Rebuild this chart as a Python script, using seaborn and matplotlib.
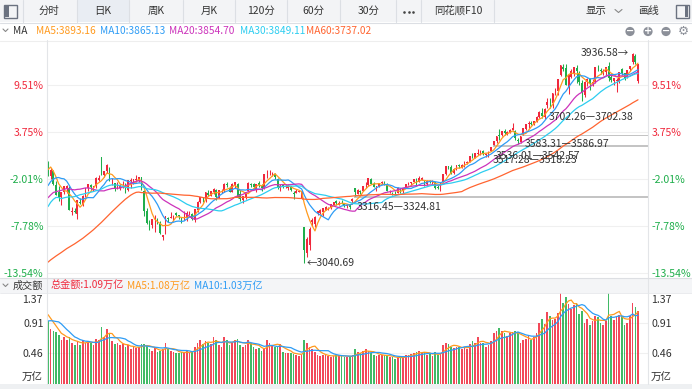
import numpy as np
import pandas as pd
import matplotlib
matplotlib.use("Agg")
import matplotlib.pyplot as plt
import seaborn as sns
from matplotlib.patches import Rectangle, Circle

# closes / amounts before the first visible candle, only used to seed the moving averages
warmup_close = [
    2858, 2868, 2850, 2877, 2879, 2893, 2867, 2856, 2849, 2855, 2855, 2848, 2837, 2824, 2842,
    2811, 2803, 2784, 2788, 2765, 2737, 2744, 2721, 2717, 2704, 2718, 2736, 2736, 2748, 2863,
    2896, 3000, 3088, 3336,
    3489, 3258, 3301, 3217, 3284, 3202, 3202, 3169, 3261, 3268, 3286, 3302, 3280, 3300, 3322,
    3286, 3266, 3280,
    3272, 3311, 3387, 3383, 3470, 3452, 3470,
]
warmup_amount = [0.78, 0.84, 0.86, 0.80, 0.97, 1.10, 1.08, 1.05, 1.02]

# daily candles 2024-11-12 .. 2025-10-13 (one line per month)
open_ = [
    3468, 3412, 3433, 3372, 3344, 3323, 3342, 3361, 3363, 3260, 3265, 3250, 3303, 3290,
    3322, 3360, 3373, 3360, 3370, 3397, 3495, 3416, 3433, 3435, 3385, 3382, 3360, 3360, 3368, 3371, 3352, 3390, 3390, 3396, 3392, 3406,
    3347, 3262, 3207, 3203, 3229, 3223, 3207, 3151, 3167, 3233, 3235, 3226, 3254, 3244, 3237, 3228, 3234, 3248,
    3250, 3225, 3267, 3303, 3320, 3314, 3341, 3328, 3346, 3354, 3320, 3347, 3348, 3380, 3363, 3346, 3375, 3380,
    3334, 3311, 3324, 3347, 3379, 3377, 3353, 3381, 3369, 3361, 3424, 3429, 3423, 3420, 3400, 3360, 3373, 3368, 3363, 3370, 3340,
    3340, 3346, 3315, 3193, 3082, 3120, 3217, 3206, 3254, 3256, 3257, 3268, 3277, 3276, 3290, 3306, 3290, 3296, 3296, 3286, 3287,
    3304, 3362, 3334, 3350, 3349, 3374, 3372, 3401, 3379, 3359, 3369, 3384, 3383, 3379, 3345, 3341, 3341, 3340, 3357,
    3347, 3362, 3375, 3383, 3388, 3400, 3388, 3396, 3385, 3379, 3388, 3387, 3385, 3364, 3356, 3386, 3420, 3453, 3452, 3423,
    3442, 3457, 3451, 3460, 3466, 3473, 3495, 3489, 3507, 3505, 3518, 3503, 3500, 3519, 3545, 3560, 3588, 3587, 3603, 3590, 3597, 3610, 3606,
    3567, 3559, 3588, 3613, 3634, 3637, 3635, 3645, 3664, 3680, 3662, 3715, 3729, 3723, 3770, 3776, 3843, 3877, 3874, 3793, 3836,
    3853, 3874, 3853, 3808, 3758, 3814, 3825, 3808, 3811, 3872, 3865, 3857, 3855, 3883, 3834, 3819, 3819, 3816, 3867, 3851, 3836, 3867,
    3898, 3922, 3818,
]
high = [
    3478, 3446, 3436, 3389, 3370, 3346, 3368, 3372, 3371, 3279, 3276, 3309, 3317, 3330,
    3363, 3379, 3377, 3370, 3410, 3417, 3495, 3433, 3464, 3449, 3403, 3384, 3385, 3378, 3389, 3381, 3393, 3405, 3399, 3416, 3409, 3409,
    3352, 3274, 3226, 3230, 3245, 3233, 3221, 3162, 3242, 3238, 3258, 3245, 3259, 3248, 3238, 3264, 3263, 3265,
    3253, 3270, 3304, 3324, 3323, 3346, 3352, 3347, 3363, 3358, 3353, 3357, 3382, 3386, 3371, 3381, 3388, 3381,
    3352, 3328, 3344, 3385, 3384, 3381, 3379, 3390, 3378, 3420, 3436, 3439, 3430, 3423, 3405, 3376, 3379, 3380, 3377, 3371, 3347,
    3357, 3354, 3351, 3193, 3154, 3194, 3232, 3241, 3263, 3270, 3276, 3285, 3280, 3292, 3302, 3309, 3305, 3308, 3299, 3294, 3290,
    3316.45, 3362, 3357, 3351, 3371, 3386, 3404, 3402, 3385, 3369, 3381, 3392, 3389, 3382, 3352, 3345, 3348, 3365, 3361,
    3362, 3379, 3386, 3386, 3400, 3404, 3412, 3409, 3393, 3394, 3393, 3397, 3387, 3374, 3383, 3420, 3456, 3456, 3460, 3445,
    3459, 3462, 3462, 3474, 3476, 3497, 3510, 3510, 3528, 3521, 3523, 3512, 3517.28, 3536.01, 3561, 3582, 3613, 3605, 3611, 3603, 3611, 3636, 3607,
    3575, 3583.31, 3618, 3634, 3645, 3645, 3648, 3669, 3688, 3704, 3702.26, 3746, 3746, 3767, 3788, 3826, 3884, 3888, 3888, 3845, 3867,
    3876, 3886, 3860, 3820, 3816, 3829, 3830, 3824, 3875, 3886, 3871, 3867, 3877, 3899, 3841, 3829, 3828, 3854, 3871, 3852, 3863, 3883,
    3936.58, 3931, 3891,
]
low = [
    3412, 3400, 3375, 3330, 3306, 3290, 3334, 3340, 3266, 3248, 3255, 3228, 3292, 3285,
    3321, 3350, 3348, 3350, 3363, 3391, 3418, 3406, 3426, 3389, 3375, 3349, 3356, 3353, 3360, 3339, 3347, 3359, 3379, 3387, 3386, 3351,
    3242, 3209, 3182, 3190, 3175, 3206, 3165, 3141, 3165, 3217, 3232, 3221, 3240, 3230, 3212, 3226, 3222, 3246,
    3223, 3218, 3260, 3295, 3300, 3302, 3326, 3326, 3337, 3308, 3318, 3339, 3343, 3366, 3343, 3342, 3360, 3318,
    3307, 3299, 3313, 3343, 3364, 3356, 3343, 3367, 3350, 3356, 3405, 3418, 3414, 3400, 3356, 3347, 3363, 3360, 3352, 3349, 3315,
    3339, 3345, 3315, 3040.69, 3066, 3098, 3201, 3196, 3244, 3249, 3240, 3266, 3266, 3270, 3286, 3289, 3287, 3293, 3282, 3276, 3272,
    3294, 3324.81, 3334, 3335, 3347, 3362, 3369, 3379, 3364, 3350, 3364, 3379, 3373, 3347, 3339, 3331, 3333, 3340, 3338,
    3339, 3361, 3372, 3373, 3385, 3369, 3386, 3395, 3370, 3375, 3381, 3380, 3357, 3358, 3347, 3386, 3417, 3441, 3420, 3422,
    3438, 3445, 3446, 3450, 3463, 3473, 3490, 3487, 3501, 3503, 3502, 3493, 3495, 3518.23, 3542.57, 3553, 3565, 3583, 3588, 3586, 3595, 3608, 3567,
    3550, 3553, 3586.97, 3608, 3615, 3630, 3631, 3641, 3660, 3658, 3656, 3702.38, 3703, 3703, 3758, 3758, 3838, 3859, 3800, 3762, 3831,
    3838, 3807, 3800, 3730, 3750, 3794, 3780, 3795, 3808, 3858, 3846, 3843, 3844, 3815, 3811, 3800, 3770, 3808, 3844, 3822, 3830, 3859,
    3891, 3888, 3810,
]
close = [
    3421, 3439, 3380, 3331, 3324, 3346, 3368, 3370, 3268, 3264, 3259, 3309, 3296, 3326,
    3363, 3379, 3364, 3368, 3404, 3402, 3422, 3432, 3461, 3391, 3386, 3361, 3382, 3370, 3368, 3352, 3393, 3394, 3399, 3400, 3407, 3352,
    3262, 3211, 3206, 3230, 3230, 3211, 3169, 3160, 3240, 3227, 3237, 3241, 3244, 3242, 3213, 3231, 3253, 3250,
    3229, 3270, 3303, 3322, 3318, 3346, 3333, 3347, 3355, 3324, 3351, 3350, 3379, 3374, 3346, 3380, 3388, 3321,
    3316, 3325, 3342, 3381, 3373, 3366, 3379, 3372, 3359, 3419, 3426, 3430, 3427, 3408, 3364, 3370, 3369, 3368, 3373, 3351, 3336,
    3348, 3350, 3342, 3097, 3145, 3186, 3224, 3238, 3263, 3268, 3276, 3280, 3277, 3292, 3300, 3296, 3297, 3295, 3288, 3287, 3279,
    3316, 3343, 3352, 3342, 3370, 3374, 3404, 3380, 3367, 3368, 3381, 3388, 3380, 3348, 3346, 3340, 3340, 3363, 3347,
    3361, 3377, 3384, 3385, 3399, 3385, 3402, 3403, 3377, 3389, 3387, 3388, 3363, 3360, 3382, 3420, 3455, 3448, 3425, 3444,
    3457, 3455, 3461, 3473, 3473, 3497, 3494, 3509, 3510, 3520, 3505, 3503, 3516, 3534, 3560, 3581, 3582, 3605, 3594, 3598, 3609, 3615, 3573,
    3560, 3583, 3618, 3634, 3640, 3635, 3648, 3665, 3684, 3666, 3697, 3728, 3727, 3766, 3771, 3826, 3884, 3868, 3800, 3843, 3858,
    3876, 3858, 3813, 3766, 3812, 3826, 3807, 3812, 3875, 3871, 3860, 3861, 3877, 3831, 3820, 3829, 3822, 3854, 3853, 3828, 3862.53, 3882.78,
    3933.97, 3897.03, 3889.50,
]
amount = [  # 万亿
    0.95, 0.82, 0.80, 0.78, 0.74, 0.66, 0.70, 0.66, 0.70, 0.62, 0.58, 0.64, 0.58, 0.66,
    0.62, 0.64, 0.62, 0.58, 0.68, 0.66, 0.86, 0.70, 0.82, 0.76, 0.64, 0.60, 0.62, 0.58, 0.60, 0.56, 0.58, 0.52, 0.56, 0.54, 0.56, 0.60,
    0.60, 0.58, 0.52, 0.50, 0.54, 0.48, 0.50, 0.52, 0.62, 0.52, 0.50, 0.48, 0.47, 0.46, 0.48, 0.47, 0.50, 0.46,
    0.50, 0.56, 0.62, 0.66, 0.60, 0.64, 0.62, 0.60, 0.70, 0.66, 0.58, 0.56, 0.70, 0.66, 0.58, 0.62, 0.66, 0.68,
    0.58, 0.56, 0.58, 0.66, 0.62, 0.56, 0.52, 0.54, 0.50, 0.52, 0.66, 0.62, 0.58, 0.56, 0.56, 0.60, 0.48, 0.46, 0.46, 0.47, 0.45,
    0.44, 0.42, 0.44, 0.66, 0.62, 0.56, 0.52, 0.48, 0.44, 0.42, 0.44, 0.43, 0.42, 0.40, 0.42, 0.44, 0.43, 0.42, 0.40, 0.40, 0.42,
    0.43, 0.52, 0.48, 0.46, 0.50, 0.52, 0.50, 0.46, 0.44, 0.42, 0.43, 0.44, 0.43, 0.42, 0.40, 0.40, 0.38, 0.40, 0.40,
    0.40, 0.44, 0.44, 0.45, 0.46, 0.48, 0.50, 0.46, 0.48, 0.44, 0.45, 0.42, 0.48, 0.43, 0.47, 0.58, 0.62, 0.60, 0.56, 0.54,
    0.56, 0.56, 0.52, 0.56, 0.52, 0.60, 0.64, 0.62, 0.70, 0.62, 0.62, 0.56, 0.58, 0.64, 0.76, 0.80, 0.84, 0.80, 0.76, 0.72, 0.76, 0.78, 0.80,
    0.78, 0.62, 0.66, 0.68, 0.72, 0.66, 0.70, 0.76, 0.92, 0.98, 0.90, 1.08, 1.02, 0.96, 0.98, 1.06, 1.45, 1.22, 1.30, 1.20, 1.12,
    1.18, 1.22, 1.05, 1.10, 0.92, 0.98, 0.88, 0.95, 1.02, 1.00, 0.92, 0.88, 0.94, 1.42, 1.02, 0.96, 1.00, 1.04, 1.02, 0.88, 0.92, 1.02,
    1.22, 1.15, 1.09,
]

ma_windows = [5, 10, 20, 30, 60]
ma_labels = ["MA5:3893.16", "MA10:3865.13", "MA20:3854.70", "MA30:3849.11", "MA60:3737.02"]
tick_prices = [3800, 3600, 3400, 3200, 3000]
tick_labels = ["9.51%", "3.75%", "-2.01%", "-7.78%", "-13.54%"]
vol_ticks = [0.46, 0.91]
vol_tick_labels = ["0.46", "0.91"]
vol_windows = [5, 10]
vol_legend = ["总金额:1.09万亿", "MA5:1.08万亿", "MA10:1.03万亿"]
gap_day = [115, 166, 167, 178, 187]
gap_lo = [3316.45, 3517.28, 3536.01, 3583.31, 3702.26]
gap_hi = [3324.81, 3518.23, 3542.57, 3586.97, 3702.38]
toolbar_items = ["分时", "日K", "周K", "月K", "120分", "60分", "30分", "同花顺F10"]

# colours
RED = "#f0283c"
GREEN = "#1fae4b"
MA_COLORS = ["#ff9a1e", "#2e9cf5", "#cc33bb", "#2ccdf0", "#ff6430"]
TXT = "#333333"
LINE = "#e3e5e8"

sns.set_style("white")
plt.rcParams["font.family"] = ["Noto Sans CJK SC", "DejaVu Sans"]
plt.rcParams["axes.unicode_minus"] = False

W, H = 692, 389
fig = plt.figure(figsize=(W / 100, H / 100), dpi=100)


def box(x0, y0, x1, y1):
    # pixel rectangle -> figure fraction
    return [x0 / W, 1 - y1 / H, (x1 - x0) / W, (y1 - y0) / H]


n = len(close)
x = np.arange(n)
o = np.array(open_, dtype=float)
h = np.array(high, dtype=float)
l = np.array(low, dtype=float)
c = np.array(close, dtype=float)
up = c >= o
colors = np.where(up, RED, GREEN)

step = 590 / (n - 1)          # px per candle
xlim = (-1 / step, (n - 1) + 10 / step)
k = (272.7 - 85) / 800        # px per index point
ylim = (3000 - 4.3 / k, 3800 + 45 / k)

# ---------------- price panel ----------------
ax = fig.add_axes(box(47, 40, 648, 277))
ax.set_xlim(*xlim)
ax.set_ylim(*ylim)
for s in ax.spines.values():
    s.set_visible(False)
ax.set_xticks([])
ax.set_yticks(tick_prices)
ax.set_yticklabels(tick_labels)
ax.tick_params(axis="y", length=0, pad=2.5, labelsize=7.6, labelright=True)
for t, lab in zip(ax.yaxis.get_major_ticks(), tick_labels):
    col = GREEN if lab.startswith("-") else RED
    t.label1.set_color(col)
    t.label2.set_color(col)
ax.grid(axis="y", color="#f0f0f0", lw=0.8)
ax.set_axisbelow(True)

# gap bands
for d, lo, hi in zip(gap_day, gap_lo, gap_hi):
    ax.fill_between([d - 0.5, xlim[1]], lo, hi, color="#c4c4c4", lw=0, zorder=1)
    ax.annotate(f"{lo:.2f}—{hi:.2f}", xy=(d, lo), xytext=(1, -6.2), textcoords="offset points",
                fontsize=7.5, color=TXT, ha="left", va="center", zorder=8)

# candles
ax.vlines(x, l, h, colors=colors, lw=0.75, zorder=3)
body = np.maximum(np.abs(c - o), 0.8)
ax.bar(x, body, bottom=np.minimum(o, c), width=0.65, color=colors, lw=0, zorder=4)

# moving averages
full = pd.Series(warmup_close + close, dtype=float)
for win, col in zip(ma_windows, MA_COLORS):
    ma = full.rolling(win).mean().iloc[len(warmup_close):].to_numpy()
    sns.lineplot(x=x, y=ma, ax=ax, color=col, lw=0.9, estimator=None, zorder=5)

ih = int(np.argmax(h))
il = int(np.argmin(l))
ax.annotate(f"{h[ih]:.2f}→", xy=(ih, h[ih]), xytext=(-3, 0), textcoords="offset points",
            ha="right", va="center", fontsize=7.5, color=TXT)
ax.annotate(f"←{l[il]:.2f}", xy=(il, l[il]), xytext=(2, 0), textcoords="offset points",
            ha="left", va="center", fontsize=7.5, color=TXT)

# ---------------- volume panel ----------------
vx = fig.add_axes(box(47, 292.6, 648, 384))
vx.set_xlim(*xlim)
vx.set_ylim(0, 1.37)
for s in vx.spines.values():
    s.set_visible(False)
vx.set_xticks([])
vx.set_yticks(vol_ticks)
vx.set_yticklabels(vol_tick_labels)
vx.tick_params(axis="y", length=0, pad=2.5, labelsize=7.6, labelcolor=TXT, labelright=True)
vx.grid(axis="y", color="#f0f0f0", lw=0.8)
vx.set_axisbelow(True)
vx.bar(x, amount, width=0.62, color=colors, alpha=0.85, lw=0, zorder=2)
vfull = pd.Series(warmup_amount + amount, dtype=float)
for win, col in zip(vol_windows, MA_COLORS[:2]):
    vma = vfull.rolling(win).mean().iloc[len(warmup_amount):].to_numpy()
    sns.lineplot(x=x, y=vma, ax=vx, color=col, lw=0.9, estimator=None, zorder=3)
# top value and unit, kept inside the panel like the tick labels
for xx, ha in [(-4.5 / 601, "right"), (1 + 3 / 601, "left")]:
    vx.text(xx, 0.919, "1.37", transform=vx.transAxes, ha=ha, va="center", fontsize=7.6, color=TXT)
    vx.text(xx, 0.077, "万亿", transform=vx.transAxes, ha=ha, va="center", fontsize=7.6, color=TXT)

# ---------------- chrome (toolbar, legends, separators) ----------------
ov = fig.add_axes([0, 0, 1, 1], zorder=10)
ov.set_xlim(0, W)
ov.set_ylim(H, 0)
ov.axis("off")
ov.patch.set_alpha(0)

ov.add_patch(Rectangle((0, 0), W, 22, color="#f3f4f6", lw=0))
ov.add_patch(Rectangle((77, 0), 52, 22, color="#e9edf3", lw=0))
ov.plot([0, W], [22.5, 22.5], color="#dcdfe4", lw=0.8)
for sx in [23, 77, 129, 183, 235, 287, 340, 396, 421, 494]:
    ov.plot([sx, sx], [0, 22], color="#dcdfe4", lw=0.8)
for cx, s in zip([49, 103, 156, 209, 261, 313, 369, 458], toolbar_items):
    ov.text(cx, 11, s, ha="center", va="center", fontsize=7.5, color=TXT)
ov.scatter([404, 408.5, 413], [11.5, 11.5, 11.5], s=3.5, color="#444", lw=0)
ov.text(596, 11, "显示", ha="center", va="center", fontsize=7.5, color=TXT)
ov.plot([615, 618.5, 622], [9.5, 12.5, 9.5], color="#888", lw=0.8)
ov.text(648, 11, "画线", ha="center", va="center", fontsize=7.5, color=TXT)
# panel toggle icons
ov.add_patch(Rectangle((4, 4.5), 13, 13, fill=False, ec="#6b7280", lw=1.0))
ov.add_patch(Rectangle((5, 5.5), 3.5, 11, color="#6b7280", lw=0))
ov.add_patch(Rectangle((676, 4.5), 13, 13, fill=False, ec="#6b7280", lw=1.0))
ov.add_patch(Rectangle((684.5, 5.5), 3.5, 11, color="#6b7280", lw=0))

# MA legend row
ov.plot([3, 5.5, 8], [29, 31.5, 29], color="#888", lw=0.8)
ov.text(13, 30.5, "MA", ha="left", va="center", fontsize=7.3, color=TXT)
for lx, s, col in zip([36, 100, 169, 240, 306], ma_labels, MA_COLORS):
    ov.text(lx, 30.5, s, ha="left", va="center", fontsize=7.3, color=col)
for cx, sym in zip([630, 648, 666], ["−", "+", "−"]):
    ov.add_patch(Circle((cx, 31.5), 4.6, color="#8c9099", lw=0))
    ov.text(cx, 31.3, sym, ha="center", va="center", fontsize=7, color="white",
            fontweight="bold", family="DejaVu Sans")
ov.text(683, 31.5, "⚙", ha="center", va="center", fontsize=9, color="#8c9099", family="DejaVu Sans")

# separators
ov.plot([0, W], [40.5, 40.5], color="#eeeeee", lw=0.8)
ov.plot([47, 47], [40, 384], color=LINE, lw=0.8)
ov.plot([648, 648], [40, 384], color=LINE, lw=0.8)
ov.add_patch(Rectangle((0, 277.5), W, 15, color="#f4f5f7", lw=0))
ov.plot([0, W], [277.5, 277.5], color="#dddfe3", lw=0.8)
ov.plot([0, W], [292.5, 292.5], color="#e6e8eb", lw=0.6)
ov.add_patch(Rectangle((0, 384), W, 5, color="#eef0f2", lw=0))

# volume legend row
ov.plot([3, 5.5, 8], [284, 286.5, 284], color="#888", lw=0.8)
ov.text(13, 285.5, "成交额", ha="left", va="center", fontsize=7.3, color=TXT)
for lx, s, col in zip([51, 127, 194], vol_legend, [RED, MA_COLORS[0], MA_COLORS[1]]):
    ov.text(lx, 285.5, s, ha="left", va="center", fontsize=7.3, color=col)

fig.savefig("out.png", dpi=100)
